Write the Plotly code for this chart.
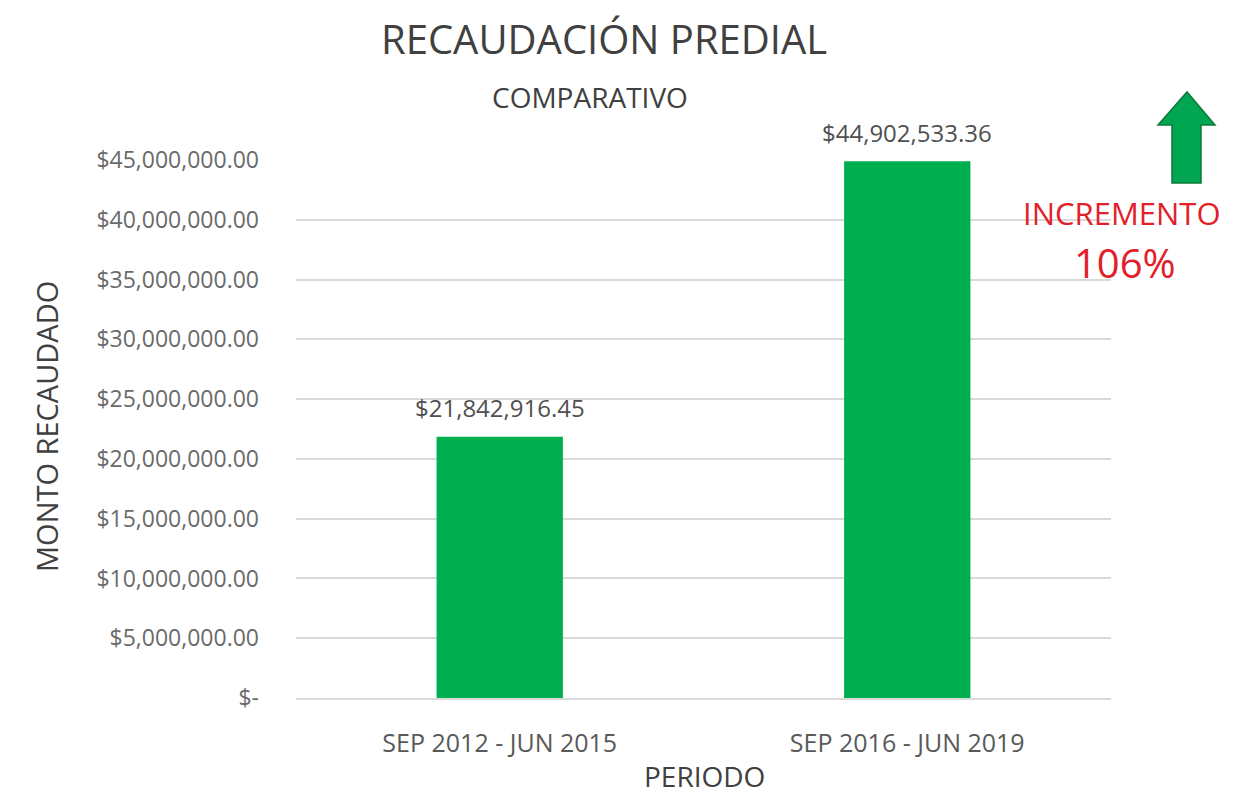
import plotly.graph_objects as go

periods = ["SEP 2012 - JUN 2015", "SEP 2016 - JUN 2019"]
amounts = [21842916.45, 44902533.36]
label_texts = ["$21,842,916.45", "$44,902,533.36"]
tick_vals = [0, 5e6, 10e6, 15e6, 20e6, 25e6, 30e6, 35e6, 40e6, 45e6]
tick_text = ["$-", "$5,000,000.00", "$10,000,000.00", "$15,000,000.00", "$20,000,000.00",
             "$25,000,000.00", "$30,000,000.00", "$35,000,000.00", "$40,000,000.00",
             "$45,000,000.00"]

FONT = "Open Sans"
W, H = 1242, 795
L, R, T, B = 296, 131, 160, 97
pw, ph = W - L - R, H - T - B

def px(x):
    return (x - L) / pw

def py(y):
    return (H - B - y) / ph

fig = go.Figure()
fig.add_trace(go.Bar(
    x=periods, y=amounts, width=0.31,
    marker=dict(color="#00b050", line=dict(width=0)),
    hoverinfo="skip",
))

# value labels above bars
for p, a, t in zip(periods, amounts, label_texts):
    fig.add_annotation(x=p, y=a, text=t, showarrow=False, xanchor="center", yanchor="middle",
                       yshift=29, font=dict(family=FONT, size=24, color="#505050"))

# arrow shape
arrow = (f"M {px(1172)} {py(183)} L {px(1172)} {py(125)} L {px(1158)} {py(125)} "
         f"L {px(1187)} {py(92)} L {px(1215)} {py(125)} L {px(1201)} {py(125)} "
         f"L {px(1201)} {py(183)} Z")
fig.add_shape(type="path", path=arrow, xref="paper", yref="paper",
              fillcolor="#00a651", line=dict(color="#0b7a3a", width=1.5))

def note(text, x, y, size, color, angle=0):
    fig.add_annotation(text=text, x=px(x), y=py(y), xref="paper", yref="paper",
                       xanchor="center", yanchor="middle", showarrow=False,
                       textangle=angle, font=dict(family=FONT, size=size, color=color))

note("INCREMENTO", 1122, 213, 31, "#e3202a")
note("106%", 1125, 262, 40, "#e3202a")
note("RECAUDACIÓN PREDIAL", 604, 38, 40, "#404040")
note("COMPARATIVO", 590, 97, 28, "#404040")
note("PERIODO", 704, 776, 28, "#404040")
note("MONTO RECAUDADO", 46, 427, 29, "#404040", angle=-90)

fig.update_layout(
    width=W, height=H,
    margin=dict(l=L, r=R, t=T, b=B, autoexpand=False),
    paper_bgcolor="white", plot_bgcolor="white",
    showlegend=False,
    xaxis=dict(showgrid=False, showline=True, linecolor="#d9d9d9", linewidth=1.5,
               ticks="", ticklabelstandoff=22,
               tickfont=dict(family=FONT, size=25, color="#595959")),
    yaxis=dict(range=[0, 45e6], tickvals=tick_vals, ticktext=tick_text,
               showgrid=True, gridcolor="#d9d9d9", gridwidth=1.5, zeroline=False,
               showline=False, ticks="", ticklabelstandoff=36,
               tickfont=dict(family=FONT, size=23, color="#6a6a6a")),
)

fig.write_html("out.html")
